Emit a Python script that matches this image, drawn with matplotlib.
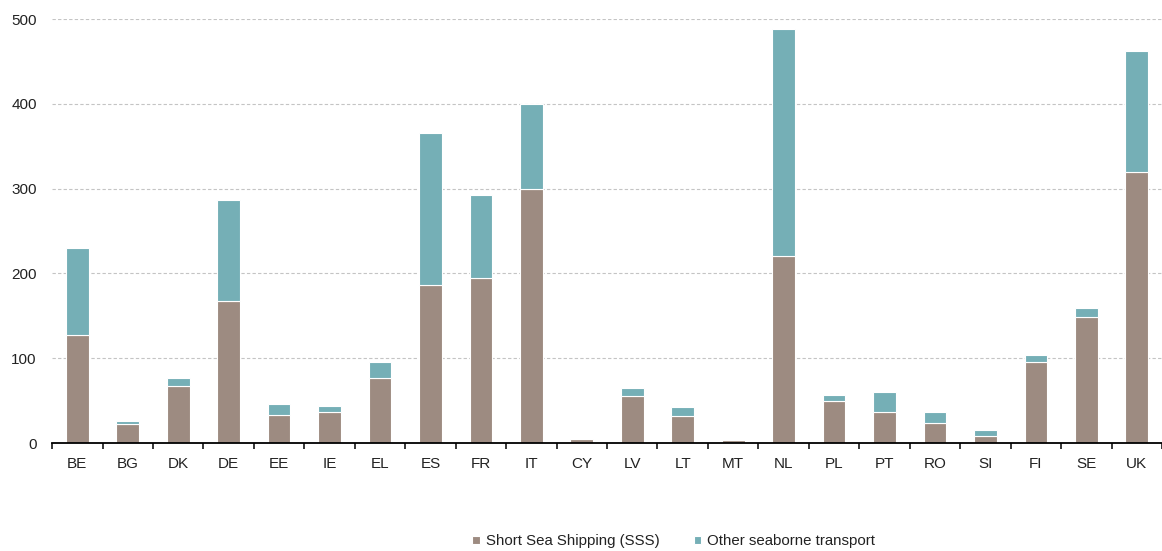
import numpy as np
import matplotlib
matplotlib.use('Agg')
from matplotlib import pyplot as plt
from matplotlib.ticker import FixedLocator

plt.rcParams['font.family'] = ['Liberation Sans', 'DejaVu Sans']

countries = ['BE', 'BG', 'DK', 'DE', 'EE', 'IE', 'EL', 'ES', 'FR', 'IT', 'CY',
             'LV', 'LT', 'MT', 'NL', 'PL', 'PT', 'RO', 'SI', 'FI', 'SE', 'UK']
sss = [127, 22, 67, 167, 33, 37, 77, 186, 194, 299, 5,
       55, 32, 3, 221, 49, 36, 24, 8, 96, 149, 319]
other = [103, 4, 10, 119, 13, 7, 18, 180, 98, 101, 0,
         10, 10, 0, 267, 8, 24, 13, 7, 8, 10, 143]
yticks = [0, 100, 200, 300, 400, 500]

colors = {'sss': '#9d8b81', 'other': '#75afb6'}

fig = plt.figure(figsize=(11.62, 5.51), dpi=100)
ax = fig.add_axes([0.0448, 0.196, 0.9552, 0.7695])

x = np.arange(len(countries))
ax.bar(x, sss, width=0.45, color=colors['sss'], edgecolor='white', linewidth=0.8,
       label='Short Sea Shipping (SSS)', zorder=2)
ax.bar(x, other, width=0.45, bottom=sss, color=colors['other'], edgecolor='white',
       linewidth=0.8, label='Other seaborne transport', zorder=2)

ax.set_xlim(-0.5, len(countries) - 0.5)
ax.set_ylim(0, 500)
ax.set_yticks(yticks)
ax.set_xticks(x)
ax.set_xticklabels(countries)
ax.xaxis.set_minor_locator(FixedLocator(np.arange(-0.5, len(countries), 1.0)))
ax.tick_params(axis='x', which='major', length=0, pad=10, labelsize=11, colors='#222222')
ax.tick_params(axis='x', which='minor', length=4.5, width=1.1, direction='out', color='black')
ax.tick_params(axis='y', length=0, pad=11, labelsize=11, colors='#222222')

for v in yticks[1:]:
    ax.axhline(v, color='#c4c4c4', linestyle=(0, (3, 2)), linewidth=0.8, zorder=1)

for s in ['top', 'right', 'left']:
    ax.spines[s].set_visible(False)
ax.spines['bottom'].set_linewidth(1.3)
ax.spines['bottom'].set_color('black')

ax.legend(loc='center', bbox_to_anchor=(0.56, -0.232), ncol=2, frameon=False,
          fontsize=10.8, handlelength=0.5, handleheight=0.5, handletextpad=0.4,
          columnspacing=2.3, labelcolor='#222222')

fig.savefig('out.png', dpi=100)
